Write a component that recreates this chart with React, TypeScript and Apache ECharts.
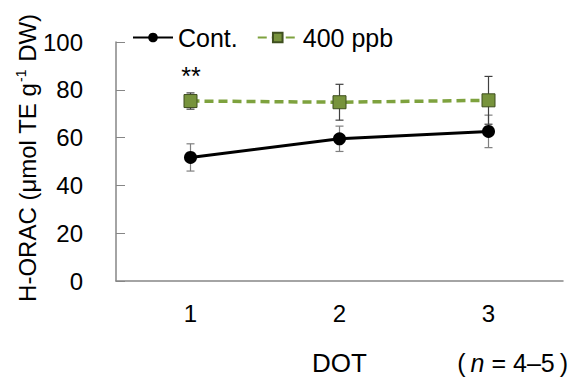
import React, { useEffect, useRef } from "react";
import * as echarts from "echarts";

const categories = ["1", "2", "3"];
const contMean = [51.7, 59.5, 62.6];
const contErr = [5.7, 5.3, 6.8];
const ppbMean = [75.3, 74.8, 75.6];
const ppbErr = [3.4, 7.5, 10.0];
const yTicks = [0, 20, 40, 60, 80, 100];

const FONT = "'Liberation Sans', Arial, sans-serif";

function errData(mean: number[], err: number[]) {
  return mean.map((m, i) => [i, m - err[i], m + err[i]]);
}

function errSeries(name: string, data: number[][], color: string, z: number) {
  return {
    type: "custom",
    name: name + "_err",
    z,
    silent: true,
    renderItem: (params: any, api: any) => {
      const x = api.value(0);
      const lo = api.coord([x, api.value(1)]);
      const hi = api.coord([x, api.value(2)]);
      const w = 4;
      const st = { stroke: color, lineWidth: 1.2 };
      return {
        type: "group",
        children: [
          { type: "line", shape: { x1: lo[0], y1: lo[1], x2: hi[0], y2: hi[1] }, style: st },
          { type: "line", shape: { x1: lo[0] - w, y1: lo[1], x2: lo[0] + w, y2: lo[1] }, style: st },
          { type: "line", shape: { x1: hi[0] - w, y1: hi[1], x2: hi[0] + w, y2: hi[1] }, style: st },
        ],
      };
    },
    data,
  };
}

export default function App() {
  const ref = useRef<HTMLDivElement>(null);
  useEffect(() => {
    const chart = echarts.init(ref.current!, null, { renderer: "svg" });
    chart.setOption({
      animation: false,
      textStyle: { fontFamily: FONT },
      grid: { left: 116, right: 7, top: 42, bottom: 97 },
      legend: {
        left: 132,
        top: 25,
        padding: 0,
        itemWidth: 40,
        itemHeight: 12,
        itemGap: 19,
        textStyle: { fontSize: 25, color: "#000", fontFamily: FONT },
        data: ["Cont.", "400 ppb"],
      },
      xAxis: {
        type: "category",
        data: categories,
        boundaryGap: true,
        axisLine: { lineStyle: { color: "#868686", width: 1.5 } },
        axisTick: { alignWithLabel: true, inside: true, length: 12, lineStyle: { color: "#868686" } },
        axisLabel: { fontSize: 24, color: "#000", margin: 20, fontFamily: FONT },
      },
      yAxis: {
        type: "value",
        min: 0,
        max: 100,
        interval: 20,
        axisLine: { show: true, lineStyle: { color: "#868686", width: 1.5 } },
        axisTick: { show: true, inside: true, length: 9, lineStyle: { color: "#868686" } },
        splitLine: { show: false },
        axisLabel: {
          fontSize: 24,
          color: "#000",
          margin: 33,
          fontFamily: FONT,
          formatter: (v: number) => (yTicks.includes(v) ? String(v) : ""),
        },
      },
      graphic: [
        {
          type: "text",
          x: 27,
          y: 158,
          rotation: Math.PI / 2,
          style: {
            text: "{a|H-ORAC (μmol TE g}{s|-1}{a| DW)}",
            align: "center",
            verticalAlign: "middle",
            rich: {
              a: { fontSize: 24, fill: "#000", fontFamily: FONT },
              s: { fontSize: 14, fill: "#000", fontFamily: FONT, padding: [0, 1, 12, 1] },
            },
          },
        },
        {
          type: "text",
          x: 191,
          y: 76,
          style: { text: "**", fontSize: 25, fill: "#000", fontFamily: FONT, align: "center", verticalAlign: "middle" },
        },
        {
          type: "text",
          x: 339.5,
          y: 363,
          style: { text: "DOT", fontSize: 26, fill: "#000", fontFamily: FONT, align: "center", verticalAlign: "middle" },
        },
        {
          type: "text",
          x: 568,
          y: 363,
          style: {
            text: "{l|(}{i|n}{a| = 4–5}{r|)}",
            align: "right",
            verticalAlign: "middle",
            rich: {
              l: { fontSize: 25, fill: "#000", fontFamily: FONT, padding: [0, 5, 0, 0] },
              r: { fontSize: 25, fill: "#000", fontFamily: FONT, padding: [0, 0, 0, 5] },
              a: { fontSize: 25, fill: "#000", fontFamily: FONT },
              i: { fontSize: 25, fill: "#000", fontFamily: FONT, fontStyle: "italic" },
            },
          },
        },
      ],
      series: [
        errSeries("Cont.", errData(contMean, contErr), "#7f7f7f", 1),
        errSeries("400 ppb", errData(ppbMean, ppbErr), "#404040", 1),
        {
          name: "Cont.",
          type: "line",
          data: contMean,
          z: 3,
          symbol: "circle",
          symbolSize: 13,
          lineStyle: { color: "#000", width: 3 },
          itemStyle: { color: "#000" },
        },
        {
          name: "400 ppb",
          type: "line",
          data: ppbMean,
          z: 4,
          symbol: "rect",
          symbolSize: 13,
          lineStyle: { color: "#7ea23e", width: 3.5, type: [9, 5] },
          itemStyle: { color: "#77933c", borderColor: "#3f4f1f", borderWidth: 1 },
        },
      ],
    });
    return () => chart.dispose();
  }, []);
  return <div ref={ref} style={{ width: 570, height: 378, position: "absolute", left: 0, top: 0 }} />;
}
